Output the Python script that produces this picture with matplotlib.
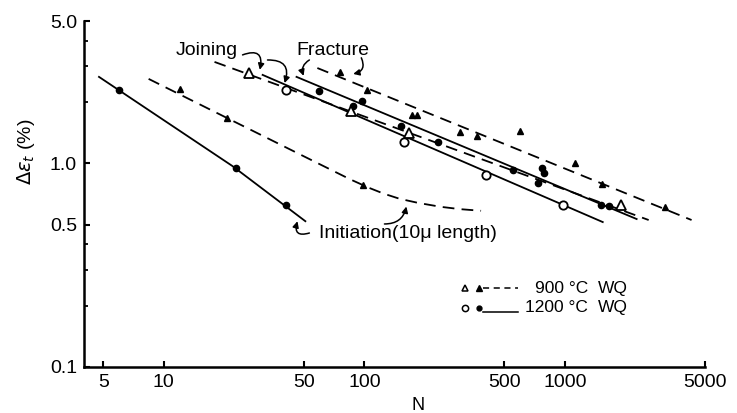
import matplotlib
matplotlib.use("Agg")
import matplotlib.pyplot as plt
from matplotlib.ticker import FixedLocator, NullFormatter

plt.rcParams['font.family'] = ['Liberation Sans', 'DejaVu Sans']

# --- data (N, strain range %) ---
# initiation (10 micron crack), 1200C WQ: filled circles + solid fit
init_1200_n = [6.0, 22.8, 40.5]
init_1200_e = [2.29, 0.95, 0.625]
init_1200_fit_n = [4.75, 22.0, 50.8]
init_1200_fit_e = [2.66, 0.97, 0.52]

# initiation, 900C WQ: filled triangles + dashed fit (flattens out)
init_900_n = [12.0, 20.6, 98.0]
init_900_e = [2.32, 1.67, 0.78]
init_900_fit_n = [8.4, 47.5, 85.0, 105.0, 125.0, 150.0, 185.0, 240.0, 300.0, 382.0]
init_900_fit_e = [2.6, 1.11, 0.835, 0.76, 0.71, 0.67, 0.64, 0.612, 0.596, 0.585]

# joining, 900C WQ: open triangles + dashed fit
join_900_n = [26.5, 86.0, 167.0, 1900.0]
join_900_e = [2.78, 1.80, 1.41, 0.625]
join_900_fit_n = [17.9, 2618.0]
join_900_fit_e = [3.15, 0.527]

# joining, 1200C WQ: open circles + solid fit
join_1200_n = [40.9, 158.0, 404.0, 977.0]
join_1200_e = [2.29, 1.27, 0.877, 0.625]
join_1200_fit_n = [31.1, 1545.0]
join_1200_fit_e = [2.72, 0.515]

# fracture, 900C WQ: filled triangles + dashed fit
frac_900_n = [75.2, 103.5, 173.0, 184.0, 300.0, 365.0, 597.0, 1122.0, 1527.0, 3145.0]
frac_900_e = [2.81, 2.29, 1.73, 1.73, 1.43, 1.36, 1.44, 1.00, 0.79, 0.61]
frac_900_fit_n = [58.3, 4285.0]
frac_900_fit_e = [2.94, 0.527]

# fracture, 1200C WQ: filled circles + solid fit
frac_1200_n = [59.3, 88.1, 97.7, 153.0, 233.0, 551.0, 769.0, 787.0, 735.0, 1510.0, 1656.0]
frac_1200_e = [2.27, 1.91, 2.03, 1.53, 1.27, 0.928, 0.95, 0.897, 0.80, 0.625, 0.62]
frac_1200_fit_n = [45.9, 2280.0]
frac_1200_fit_e = [2.66, 0.533]

x_ticks = [5, 10, 50, 100, 500, 1000, 5000]
x_ticklabels = ['5', '10', '50', '100', '500', '1000', '5000']
y_ticks = [0.1, 0.5, 1.0, 5.0]
y_ticklabels = ['0.1', '0.5', '1.0', '5.0']
y_minor = [0.2, 0.3, 0.4, 2, 3, 4]

fig = plt.figure(figsize=(7.37, 4.13), dpi=100)
ax = fig.add_axes([0.114, 0.1114, 0.8426, 0.8376])

lw = 1.3
dash = (0, (6.5, 4))
ms_fill = 4.5

# fit lines
ax.plot(init_1200_fit_n, init_1200_fit_e, color='black', lw=lw)
ax.plot(init_900_fit_n, init_900_fit_e, color='black', lw=lw, linestyle=dash)
ax.plot(join_900_fit_n, join_900_fit_e, color='black', lw=lw, linestyle=dash)
ax.plot(join_1200_fit_n, join_1200_fit_e, color='black', lw=lw)
ax.plot(frac_900_fit_n, frac_900_fit_e, color='black', lw=lw, linestyle=dash)
ax.plot(frac_1200_fit_n, frac_1200_fit_e, color='black', lw=lw)

# data points
ax.plot(init_1200_n, init_1200_e, 'o', color='black', ms=ms_fill)
ax.plot(init_900_n, init_900_e, '^', color='black', ms=ms_fill)
ax.plot(frac_1200_n, frac_1200_e, 'o', color='black', ms=ms_fill)
ax.plot(frac_900_n, frac_900_e, '^', color='black', ms=ms_fill)
ax.plot(join_1200_n, join_1200_e, 'o', mfc='white', mec='black', mew=1.3, ms=6)
ax.plot(join_900_n, join_900_e, '^', mfc='white', mec='black', mew=1.3, ms=6.5)

# axes styling
ax.set_xscale('log')
ax.set_yscale('log')
ax.set_xlim(4, 5000)
ax.set_ylim(0.1, 5.0)
ax.spines['top'].set_visible(False)
ax.spines['right'].set_visible(False)
ax.spines['left'].set_linewidth(1.8)
ax.spines['bottom'].set_linewidth(1.8)
ax.xaxis.set_major_locator(FixedLocator(x_ticks))
ax.set_xticklabels(x_ticklabels)
ax.xaxis.set_minor_locator(FixedLocator([]))
ax.yaxis.set_major_locator(FixedLocator(y_ticks))
ax.set_yticklabels(y_ticklabels)
ax.yaxis.set_minor_locator(FixedLocator(y_minor))
ax.yaxis.set_minor_formatter(NullFormatter())
ax.tick_params(axis='both', which='major', direction='in', length=4, width=1.5,
               labelsize=14, pad=5)
ax.tick_params(axis='y', which='minor', direction='in', length=3, width=1.3)

fig.text(0.567, 0.017, 'N', ha='center', va='center', fontsize=13)
fig.text(0.035, 0.632, r'$\Delta\varepsilon_t$ (%)', ha='center', va='center',
         rotation=90, fontsize=14)

# annotations
ax.text(16.4, 3.6, 'Joining', ha='center', va='center', fontsize=14)
ax.text(69.3, 3.6, 'Fracture', ha='center', va='center', fontsize=14)
ax.text(59.7, 0.45, 'Initiation(10\u03bc length)', ha='left', va='center', fontsize=14)

arr = dict(arrowstyle='-|>', color='black', lw=1.1, mutation_scale=9, shrinkA=0, shrinkB=0)
ax.annotate('', xy=(30.1, 2.88), xytext=(24.7, 3.41),
            arrowprops=dict(arr, connectionstyle='arc3,rad=-0.9'))
ax.annotate('', xy=(40.0, 2.48), xytext=(32.9, 3.22),
            arrowprops=dict(arr, connectionstyle='arc3,rad=-0.7'))
ax.annotate('', xy=(49.8, 2.69), xytext=(53.2, 3.22),
            arrowprops=dict(arr, connectionstyle='arc3,rad=0.4'))
ax.annotate('', xy=(88.0, 2.75), xytext=(96.6, 3.3),
            arrowprops=dict(arr, connectionstyle='arc3,rad=-0.6'))
ax.annotate('', xy=(46.4, 0.52), xytext=(53.2, 0.455),
            arrowprops=dict(arr, connectionstyle='arc3,rad=-0.9'))
ax.annotate('', xy=(162, 0.614), xytext=(126, 0.504),
            arrowprops=dict(arr, connectionstyle='arc3,rad=0.4'))

# hand-drawn style key
tr = ax.transAxes
ax.plot([0.6135], [0.228], '^', transform=tr, mfc='white', mec='black', mew=1.1, ms=5)
ax.plot([0.636], [0.228], '^', transform=tr, color='black', ms=4)
ax.plot([0.6425, 0.699], [0.228, 0.228], transform=tr, color='black', lw=1.1,
        linestyle=(0, (4, 3)))
ax.text(0.812, 0.228, '900 \u00b0C', transform=tr, ha='right', va='center', fontsize=12.5)
ax.text(0.828, 0.228, 'WQ', transform=tr, ha='left', va='center', fontsize=12.5)
ax.plot([0.6135], [0.171], 'o', transform=tr, mfc='white', mec='black', mew=1.1, ms=4.5)
ax.plot([0.636], [0.171], 'o', transform=tr, color='black', ms=3.5)
ax.plot([0.6425, 0.699], [0.16, 0.16], transform=tr, color='black', lw=1.1)
ax.text(0.812, 0.171, '1200 \u00b0C', transform=tr, ha='right', va='center', fontsize=12.5)
ax.text(0.828, 0.171, 'WQ', transform=tr, ha='left', va='center', fontsize=12.5)

fig.savefig('out.png', dpi=100)
